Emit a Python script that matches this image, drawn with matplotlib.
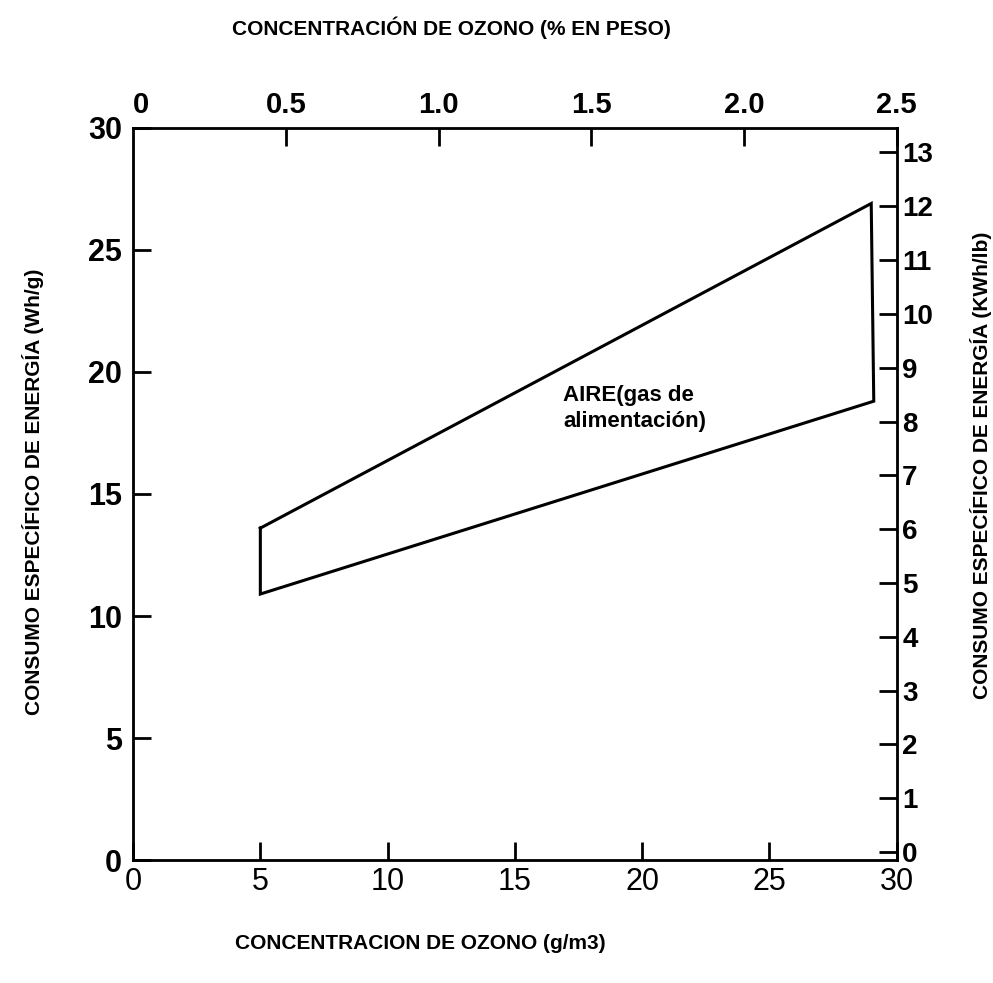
import matplotlib
matplotlib.use("Agg")
import matplotlib.pyplot as plt
from matplotlib import font_manager

# Energy band for ozone generation from air feed gas
conc_gm3 = [5.0, 29.0, 29.1, 5.0, 5.0]      # ozone concentration (g/m3)
energy_whg = [13.6, 26.9, 18.8, 10.9, 13.6]  # specific energy (Wh/g)

x_ticks = [0, 5, 10, 15, 20, 25, 30]
y_ticks = [0, 5, 10, 15, 20, 25, 30]
top_ticks = [0.5, 1.0, 1.5, 2.0, 2.5]
top_labels = ["0.5", "1.0", "1.5", "2.0", "2.5"]
right_ticks = list(range(0, 14))

WHG_PER_KWHLB = 2.2046  # 1 kWh/lb in Wh/g
GM3_PER_PCT = 12.0      # g/m3 per % by weight

names = {f.name for f in font_manager.fontManager.ttflist}
narrow = "Liberation Sans Narrow" if "Liberation Sans Narrow" in names else "Liberation Sans"
plt.rcParams["font.family"] = ["Liberation Sans", "DejaVu Sans"]

fig = plt.figure(figsize=(9.93, 9.83), dpi=100)
ax = fig.add_axes([0.134, 0.125, 0.769, 0.745])

ax.plot(conc_gm3, energy_whg, color="black", lw=2.2, solid_joinstyle="miter")

ax.set_xlim(0, 30)
ax.set_ylim(0, 30)
ax.set_xticks(x_ticks)
ax.set_yticks(y_ticks)
ax.tick_params(direction="in", length=13, width=2)
ax.tick_params(axis="x", labelsize=22, pad=5)
ax.tick_params(axis="y", labelsize=22, pad=8)
for lab in ax.get_yticklabels():
    lab.set_fontweight("bold")
for s in ax.spines.values():
    s.set_linewidth(2)

# top axis: concentration in % by weight
axt = ax.twiny()
axt.set_xlim(0, 30 / GM3_PER_PCT)
axt.set_xticks(top_ticks)
axt.set_xticklabels(top_labels, fontweight="bold")
axt.tick_params(direction="in", length=13, width=2, labelsize=21, pad=6)
axt.text(0, 1.012, "0", transform=axt.get_xaxis_transform(), ha="left",
         va="bottom", fontsize=21, fontweight="bold")

# right axis: energy in kWh/lb
axr = ax.twinx()
axr.set_ylim(-0.15, 30 / WHG_PER_KWHLB - 0.15)
axr.set_yticks(right_ticks)
axr.tick_params(direction="in", length=13, width=2, labelsize=20, pad=4)
for lab in axr.get_yticklabels():
    lab.set_fontweight("bold")

ax.text(16.9, 19.45, "AIRE(gas de\nalimentación)", fontsize=16,
        fontweight="bold", va="top", ha="left", linespacing=1.3)

fig.text(0.455, 0.972, "CONCENTRACIÓN DE OZONO (% EN PESO)", ha="center",
         va="center", fontsize=15, fontweight="bold", family=narrow)
fig.text(0.423, 0.040, "CONCENTRACION DE OZONO (g/m3)", ha="center",
         va="center", fontsize=15, fontweight="bold", family=narrow)
fig.text(0.033, 0.50, "CONSUMO ESPECÍFICO DE ENERGÍA (Wh/g)", rotation=90,
         ha="center", va="center", fontsize=15, fontweight="bold", family=narrow)
fig.text(0.988, 0.527, "CONSUMO ESPECÍFICO DE ENERGÍA (KWh/lb)", rotation=90,
         ha="center", va="center", fontsize=15, fontweight="bold", family=narrow)

fig.savefig("out.png", dpi=100, facecolor="white")
